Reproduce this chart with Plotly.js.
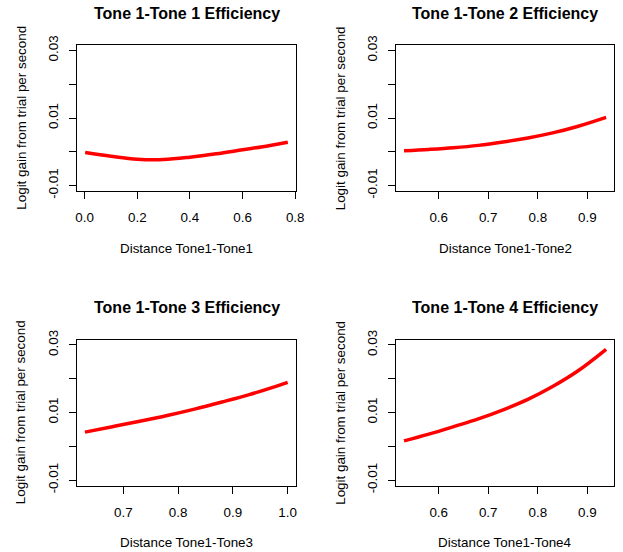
<!DOCTYPE html>
<html>
<head>
<meta charset="utf-8">
<script src="https://cdn.plot.ly/plotly-3.0.1.min.js"></script>
<style>html,body{margin:0;padding:0;background:#fff;}#chart{width:623px;height:552px;}</style>
</head>
<body>
<div id="chart"></div>
<script>
// Panel titles and axis labels
const panelTitles = ["Tone 1-Tone 1 Efficiency", "Tone 1-Tone 2 Efficiency", "Tone 1-Tone 3 Efficiency", "Tone 1-Tone 4 Efficiency"];
const xTitles = ["Distance Tone1-Tone1", "Distance Tone1-Tone2", "Distance Tone1-Tone3", "Distance Tone1-Tone4"];
const yTitle = "Logit gain from trial per second";

// Series values
const x1 = [0.002, 0.1, 0.2, 0.3, 0.4, 0.5, 0.6, 0.7, 0.772];
const y1 = [-0.0002, -0.0013, -0.0022, -0.0023, -0.0016, -0.0006, 0.0006, 0.0018, 0.0028];

const x2 = [0.530, 0.58, 0.63, 0.68, 0.73, 0.78, 0.83, 0.88, 0.938];
const y2 = [0.0003, 0.0007, 0.0012, 0.0019, 0.0029, 0.0041, 0.0056, 0.0075, 0.0102];

const x3 = [0.630, 0.68, 0.73, 0.78, 0.83, 0.88, 0.93, 0.98, 1.0];
const y3 = [0.0042, 0.0058, 0.0074, 0.0091, 0.0110, 0.0131, 0.0153, 0.0178, 0.0189];

const x4 = [0.530, 0.58, 0.63, 0.68, 0.73, 0.78, 0.83, 0.88, 0.938];
const y4 = [0.0016, 0.0036, 0.0058, 0.0081, 0.0108, 0.0139, 0.0177, 0.0222, 0.0287];

// Tick values / labels
const yTickVals = [-0.01, 0.0, 0.01, 0.02, 0.03];
const yTickText = ["-0.01", "", "0.01", "", "0.03"];
const xTickVals1 = [0.0, 0.2, 0.4, 0.6, 0.8];
const xTickVals2 = [0.6, 0.7, 0.8, 0.9];
const xTickVals3 = [0.7, 0.8, 0.9, 1.0];
const xTickVals4 = [0.6, 0.7, 0.8, 0.9];

const W = 623, H = 552;
const FONT = "Liberation Sans, Arial, Helvetica, sans-serif";
const FS = 13.4;

// panel boxes in pixels: [left, right, top, bottom]
const boxes = [[77, 296, 45, 191], [396, 614, 45, 191], [77, 296, 339.5, 485.5], [396, 614, 339.5, 485.5]];
const xRanges = [[-0.029, 0.803], [0.5138, 0.9539], [0.6155, 1.0152], [0.5138, 0.9539]];
const yRange = [-0.0116, 0.0316];
const xTicks = [xTickVals1, xTickVals2, xTickVals3, xTickVals4];
const xs = [x1, x2, x3, x4];
const ys = [y1, y2, y3, y4];

const data = [];
const layout = {
  width: W, height: H,
  margin: {l: 0, r: 0, t: 0, b: 0},
  paper_bgcolor: "#ffffff", plot_bgcolor: "#ffffff",
  showlegend: false,
  font: {family: FONT, size: FS, color: "#000"},
  annotations: []
};

for (let i = 0; i < 4; i++) {
  const n = i === 0 ? "" : String(i + 1);
  const b = boxes[i];
  data.push({
    x: xs[i], y: ys[i], type: "scatter", mode: "lines",
    line: {color: "#ff0000", width: 3.5, shape: "spline", smoothing: 1},
    xaxis: "x" + n, yaxis: "y" + n, hoverinfo: "skip"
  });
  const common = {
    showline: true, mirror: true, linecolor: "#000", linewidth: 1,
    ticks: "outside", ticklen: 7, tickwidth: 1, tickcolor: "#000",
    showgrid: false, zeroline: false,
    tickfont: {family: FONT, size: FS, color: "#000"},
    fixedrange: true
  };
  layout["xaxis" + n] = Object.assign({}, common, {
    domain: [b[0] / W, b[1] / W],
    range: xRanges[i],
    anchor: "y" + n,
    tickmode: "array", tickvals: xTicks[i],
    ticktext: xTicks[i].map(v => v.toFixed(1)),
    ticklabelstandoff: 7
  });
  layout["yaxis" + n] = Object.assign({}, common, {
    domain: [1 - b[3] / H, 1 - b[2] / H],
    range: yRange,
    anchor: "x" + n,
    tickmode: "array", tickvals: yTickVals, ticktext: yTickText,
    tickangle: -90,
    ticklabelstandoff: 6
  });
  const cx = (b[0] + b[1]) / 2;
  const cy = (b[2] + b[3]) / 2;
  const titleY = i < 2 ? 13.3 : 307.7;
  const xTitleY = i < 2 ? 248 : 542.5;
  const yTitleX = i % 2 === 0 ? 20.7 : 340.3;
  layout.annotations.push({
    text: "<b>" + panelTitles[i] + "</b>", xref: "paper", yref: "paper",
    x: cx / W, y: 1 - titleY / H, xanchor: "center", yanchor: "middle",
    showarrow: false, font: {family: FONT, size: 16, color: "#000"}
  });
  layout.annotations.push({
    text: xTitles[i], xref: "paper", yref: "paper",
    x: cx / W, y: 1 - xTitleY / H, xanchor: "center", yanchor: "middle",
    showarrow: false, font: {family: FONT, size: FS, color: "#000"}
  });
  layout.annotations.push({
    text: yTitle, xref: "paper", yref: "paper", textangle: -90,
    x: yTitleX / W, y: 1 - cy / H, xanchor: "center", yanchor: "middle",
    showarrow: false, font: {family: FONT, size: FS, color: "#000"}
  });
}

Plotly.newPlot("chart", data, layout, {displayModeBar: false, staticPlot: true});
</script>
</body>
</html>
